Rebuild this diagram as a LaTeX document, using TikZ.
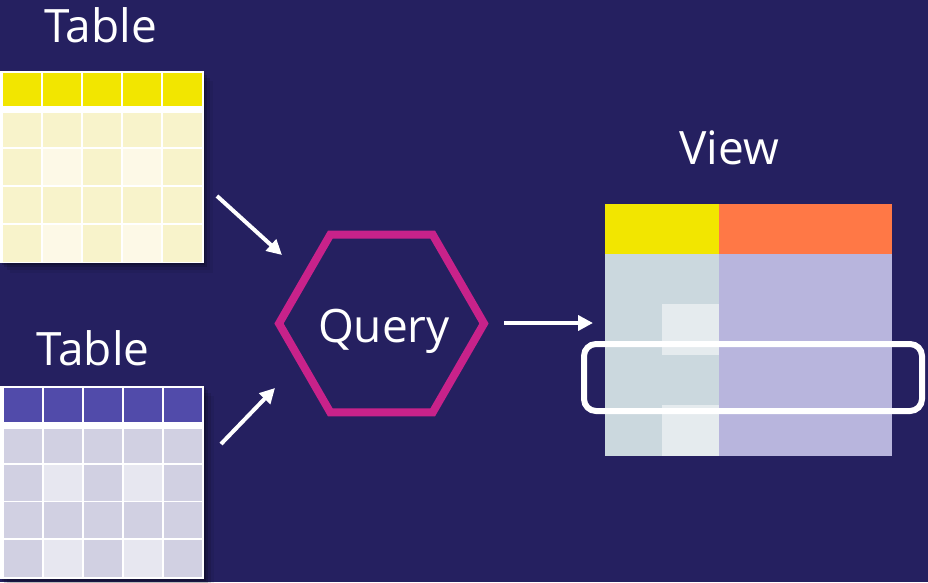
\documentclass[tikz,border=0pt]{standalone}
\usepackage{fontspec}
\setmainfont{Open Sans}
\usetikzlibrary{arrows.meta,shapes.geometric}

\definecolor{bgnavy}{HTML}{252060}
\definecolor{hdryellow}{HTML}{F2E600}
\definecolor{celly}{HTML}{F8F3CB}
\definecolor{cellylight}{HTML}{FDF9E7}
\definecolor{hdrpurple}{HTML}{514BAA}
\definecolor{cellp}{HTML}{D1D0E2}
\definecolor{cellplight}{HTML}{E7E7F0}
\definecolor{hexmagenta}{HTML}{C8228A}
\definecolor{hdrorange}{HTML}{FF7846}
\definecolor{colgrey}{HTML}{CBD8DE}
\definecolor{colgreylight}{HTML}{E5EBEE}
\definecolor{collav}{HTML}{B8B5DD}

\tikzset{
  title/.style={text=white, font=\fontsize{46}{50}\selectfont, inner sep=0pt, anchor=base},
  tablebox/.style={fill=white, inner sep=0pt, outer sep=0pt},
  hexa/.style={regular polygon, regular polygon sides=6, draw=hexmagenta,
    line width=8pt, minimum size=205pt, inner sep=0pt, outer sep=0pt},
  flow/.style={draw=white, line width=4pt, -{Triangle[length=15pt,width=15pt]}},
  highlight/.style={draw=white, line width=6pt, rounded corners=12pt},
}

\begin{document}
\begin{tikzpicture}[x=1pt,y=-1pt]
  \useasboundingbox (0,0) rectangle (928,582);
  \fill[bgnavy] (0,0) rectangle (928,582);

  % soft shadows behind the two source tables
  \foreach \d/\o in {2/0.18,4/0.14,7/0.10,10/0.06}{
    \fill[black, opacity=\o] (0+\d,71+\d) rectangle (203+\d,263+\d);
    \fill[black, opacity=\o] (0+\d,386+\d) rectangle (204+\d,579+\d);
  }

  % ---- upper source table ----
  \node[title] (t1) at (100.5,42) {Table};
  \node[tablebox, minimum width=204pt, minimum height=192pt] (tab1) at (101.5,167) {};
  \foreach \xa/\xb in {3/41,43/81,83/121,123/161,163/202}{
    \fill[hdryellow] (\xa,73) rectangle (\xb,106);
    \fill[celly] (\xa,113) rectangle (\xb,147);
    \fill[celly] (\xa,187) rectangle (\xb,223);
  }
  \foreach \xa/\xb/\c in {3/41/celly,43/81/cellylight,83/121/celly,123/161/cellylight,163/202/celly}{
    \fill[\c] (\xa,149) rectangle (\xb,185);
    \fill[\c] (\xa,225) rectangle (\xb,262);
  }

  % ---- lower source table ----
  \node[title] (t2) at (93,365) {Table};
  \node[tablebox, minimum width=205pt, minimum height=193pt] (tab2) at (101.5,482.5) {};
  \foreach \xa/\xb in {4/42,44/82,84/122,124/162,164/202}{
    \fill[hdrpurple] (\xa,388) rectangle (\xb,422);
    \fill[cellp] (\xa,429) rectangle (\xb,463);
    \fill[cellp] (\xa,502) rectangle (\xb,538);
  }
  \foreach \xa/\xb/\c in {4/42/cellp,44/82/cellplight,84/122/cellp,124/162/cellplight,164/202/cellp}{
    \fill[\c] (\xa,465) rectangle (\xb,501);
    \fill[\c] (\xa,540) rectangle (\xb,577);
  }

  % ---- query ----
  \node[hexa] (query) at (381.5,323.5) {};
  \node[title] (qlabel) at (384,342) {Query};

  % ---- resulting view ----
  \node[title] (vlabel) at (729,164) {View};
  \node[inner sep=0pt, outer sep=0pt, minimum width=287pt, minimum height=252pt] (view) at (748.5,330) {};
  \fill[hdryellow] (605,204) rectangle (719,254);
  \fill[hdrorange] (719,204) rectangle (892,254);
  \fill[colgrey] (605,254) rectangle (719,456);
  \fill[collav] (719,254) rectangle (892,456);
  \fill[colgreylight] (662,304) rectangle (719,355);
  \fill[colgreylight] (662,405) rectangle (719,456);
  \draw[highlight] (584,344) rectangle (922,411);

  % ---- connectors ----
  \coordinate (a1s) at (217,196);
  \coordinate (a1e) at (282,255);
  \coordinate (a2s) at (221,444);
  \coordinate (a2e) at (275,388);
  \coordinate (a3s) at (504,323);
  \coordinate (a3e) at (593,323);
  \draw[flow] (a1s) -- (a1e);
  \draw[flow] (a2s) -- (a2e);
  \draw[flow] (a3s) -- (a3e);
\end{tikzpicture}
\end{document}
